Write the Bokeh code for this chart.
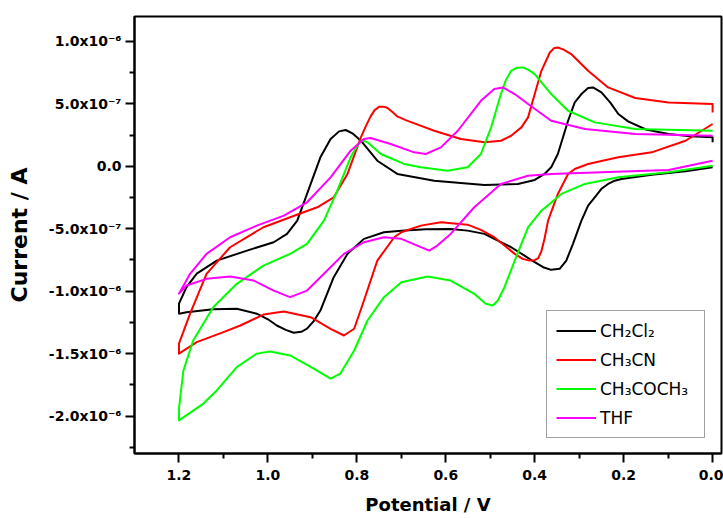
import numpy as np
from bokeh.plotting import figure
from bokeh.models import (FixedTicker, CustomJSTickFormatter, Legend, LegendItem,
                          Range1d)
from bokeh.embed import file_html
from bokeh.resources import INLINE

# ---------------- data (potential in V, current in units of 1e-6 A) ----------------
solvents = ["CH₂Cl₂", "CH₃CN", "CH₃COCH₃", "THF"]
colors = ["#000000", "#FF0000", "#00FF00", "#FF00FF"]

# CH2Cl2 : lower branch 0.0 -> 1.2 V, then upper branch 1.2 -> 0.0 V
e_ch2cl2 = [0.0, 0.061, 0.137, 0.205, 0.22, 0.235, 0.25, 0.265, 0.28, 0.295, 0.314, 0.329,
            0.344, 0.363, 0.381, 0.40, 0.423, 0.453, 0.483, 0.513, 0.551, 0.589, 0.645, 0.70,
            0.739, 0.784, 0.821, 0.852, 0.882, 0.897, 0.912, 0.925, 0.942, 0.96, 0.98, 1.0,
            1.025, 1.07, 1.123, 1.183, 1.2,
            1.2, 1.183, 1.16, 1.115, 1.047, 0.987, 0.957, 0.934, 0.912, 0.882, 0.859, 0.84,
            0.825, 0.81, 0.791, 0.754, 0.709, 0.626, 0.513, 0.438, 0.40, 0.378, 0.363, 0.348,
            0.325, 0.31, 0.295, 0.28, 0.269, 0.25, 0.23, 0.212, 0.19, 0.15, 0.099, 0.05,
            0.0, 0.0]
i_ch2cl2 = [-0.008, -0.040, -0.067, -0.101, -0.115, -0.141, -0.18, -0.248, -0.315, -0.435,
            -0.621, -0.755, -0.821, -0.829, -0.808, -0.768, -0.715, -0.648, -0.595, -0.541,
            -0.515, -0.501, -0.504, -0.515, -0.528, -0.581, -0.701, -0.888, -1.155, -1.24,
            -1.30, -1.325, -1.333, -1.31, -1.275, -1.225, -1.18, -1.141, -1.144, -1.168, -1.18,
            -1.10, -0.968, -0.86, -0.755, -0.675, -0.608, -0.541, -0.435, -0.221, 0.072,
            0.219, 0.28, 0.291, 0.264, 0.205, 0.045, -0.061, -0.115, -0.149, -0.141, -0.109,
            -0.061, -0.008, 0.099, 0.365, 0.512, 0.579, 0.627, 0.632, 0.592, 0.51, 0.419,
            0.36, 0.295, 0.259, 0.24, 0.232, 0.192]

# CH3CN
e_ch3cn = [0.0, 0.061, 0.137, 0.212, 0.28, 0.31, 0.325, 0.348, 0.37, 0.378, 0.385, 0.392,
           0.40, 0.412, 0.427, 0.445, 0.491, 0.521, 0.551, 0.611, 0.656, 0.70, 0.716, 0.754,
           0.784, 0.806, 0.829, 0.859, 0.904, 0.964, 1.01, 1.062, 1.10, 1.16, 1.2,
           1.2, 1.175, 1.138, 1.085, 1.01, 0.95, 0.889, 0.852, 0.821, 0.791, 0.78, 0.769,
           0.76, 0.75, 0.74, 0.731, 0.72, 0.709, 0.69, 0.66, 0.626, 0.566, 0.513, 0.476,
           0.453, 0.43, 0.415, 0.40, 0.385, 0.366, 0.357, 0.348, 0.335, 0.318, 0.28, 0.235,
           0.174, 0.099, 0.0, 0.0]
i_ch3cn = [0.339, 0.205, 0.112, 0.072, 0.019, -0.021, -0.061, -0.221, -0.435, -0.58, -0.68,
           -0.735, -0.752, -0.755, -0.741, -0.701, -0.568, -0.509, -0.467, -0.448, -0.475,
           -0.528, -0.568, -0.755, -1.075, -1.301, -1.355, -1.301, -1.208, -1.163, -1.187,
           -1.275, -1.328, -1.408, -1.50,
           -1.42, -1.18, -0.861, -0.648, -0.488, -0.408, -0.328, -0.248, -0.061, 0.232,
           0.32, 0.40, 0.45, 0.477, 0.478, 0.467, 0.435, 0.40, 0.37, 0.33, 0.285, 0.219,
           0.192, 0.205, 0.245, 0.312, 0.392, 0.579, 0.765, 0.912, 0.945, 0.952, 0.935,
           0.899, 0.765, 0.632, 0.547, 0.512, 0.499, 0.432]

# CH3COCH3
e_ch3coch3 = [0.0, 0.099, 0.212, 0.287, 0.34, 0.385, 0.415, 0.445, 0.468, 0.483, 0.494, 0.51,
              0.536, 0.589, 0.641, 0.70, 0.739, 0.776, 0.806, 0.837, 0.859, 0.897, 0.95,
              0.995, 1.025, 1.07, 1.115, 1.145, 1.2,
              1.2, 1.19, 1.168, 1.123, 1.07, 1.01, 0.95, 0.912, 0.874, 0.844, 0.814, 0.80,
              0.791, 0.785, 0.776, 0.746, 0.694, 0.656, 0.596, 0.551, 0.521, 0.498, 0.476,
              0.465, 0.453, 0.44, 0.427, 0.415, 0.40, 0.363, 0.325, 0.265, 0.174, 0.0]
i_ch3coch3 = [0.005, -0.048, -0.088, -0.141, -0.221, -0.355, -0.488, -0.755, -0.968, -1.075,
              -1.115, -1.101, -1.021, -0.915, -0.883, -0.928, -1.048, -1.235, -1.475, -1.66,
              -1.701, -1.621, -1.515, -1.483, -1.50, -1.608, -1.795, -1.90, -2.035,
              -1.94, -1.635, -1.395, -1.128, -0.941, -0.795, -0.701, -0.621, -0.435, -0.195,
              0.072, 0.16, 0.2, 0.205, 0.192, 0.099, 0.019, -0.008, -0.035, -0.008, 0.099,
              0.312, 0.579, 0.69, 0.765, 0.79, 0.792, 0.775, 0.739, 0.579, 0.445, 0.352,
              0.299, 0.285]

# THF
e_thf = [0.0, 0.099, 0.25, 0.363, 0.415, 0.476, 0.536, 0.589, 0.619, 0.637, 0.664, 0.70,
         0.739, 0.784, 0.829, 0.874, 0.912, 0.95, 0.987, 1.032, 1.085, 1.138, 1.183, 1.2,
         1.175, 1.138, 1.085, 1.025, 0.964, 0.912, 0.859, 0.814, 0.784, 0.769, 0.724, 0.671,
         0.645, 0.611, 0.573, 0.521, 0.491, 0.472, 0.445, 0.415, 0.363, 0.287, 0.174, 0.0]
i_thf = [0.045, -0.029, -0.048, -0.061, -0.075, -0.141, -0.328, -0.541, -0.635, -0.675,
         -0.635, -0.581, -0.568, -0.608, -0.701, -0.861, -0.995, -1.048, -0.995, -0.915,
         -0.883, -0.901, -0.955, -1.02,
         -0.861, -0.701, -0.568, -0.475, -0.395, -0.288, -0.088, 0.125, 0.219, 0.227, 0.179,
         0.112, 0.099, 0.152, 0.285, 0.525, 0.619, 0.632, 0.579, 0.499, 0.365, 0.299, 0.259,
         0.245]

potentials = [e_ch2cl2, e_ch3cn, e_ch3coch3, e_thf]
currents = [i_ch2cl2, i_ch3cn, i_ch3coch3, i_thf]

x_ticks = [0.0, 0.2, 0.4, 0.6, 0.8, 1.0, 1.2]
x_minor = [0.1, 0.3, 0.5, 0.7, 0.9, 1.1]
y_ticks = [-2.0e-6, -1.5e-6, -1.0e-6, -0.5e-6, 0.0, 0.5e-6, 1.0e-6]
y_minor = [-2.25e-6, -1.75e-6, -1.25e-6, -0.75e-6, -0.25e-6, 0.25e-6, 0.75e-6]

FONT = "DejaVu Sans"

p = figure(width=723, height=518, output_backend="svg", toolbar_location=None,
           x_range=Range1d(1.3, -0.02), y_range=Range1d(-2.3e-6, 1.2e-6),
           min_border_left=134, min_border_right=2, min_border_top=16, min_border_bottom=65)
p.xgrid.visible = False
p.ygrid.visible = False
p.outline_line_color = "black"
p.outline_line_width = 2
p.background_fill_color = "white"
p.border_fill_color = "white"

renderers = []
for e, i, c in zip(potentials, currents, colors):
    r = p.line(np.array(e), np.array(i) * 1e-6, line_color=c, line_width=2,
               line_join="round")
    renderers.append(r)

p.xaxis.ticker = FixedTicker(ticks=x_ticks, minor_ticks=x_minor)
p.yaxis.ticker = FixedTicker(ticks=y_ticks, minor_ticks=y_minor)
p.xaxis.formatter = CustomJSTickFormatter(code="return tick.toFixed(1);")
p.yaxis.formatter = CustomJSTickFormatter(code="""
if (Math.abs(tick) < 1e-15) { return "0.0"; }
const e = Math.floor(Math.log10(Math.abs(tick)) + 1e-6);
const m = tick / Math.pow(10, e);
const sup = {"-": "\u207B", "0": "\u2070", "1": "\u00B9", "2": "\u00B2", "3": "\u00B3",
             "4": "\u2074", "5": "\u2075", "6": "\u2076", "7": "\u2077", "8": "\u2078", "9": "\u2079"};
let s = "";
for (const ch of String(e)) { s += sup[ch]; }
return m.toFixed(1) + "x10" + s;
""")

for ax in (p.xaxis[0], p.yaxis[0]):
    ax.axis_line_width = 2
    ax.axis_line_color = "black"
    ax.major_tick_line_width = 2
    ax.minor_tick_line_width = 2
    ax.major_tick_in = 0
    ax.major_tick_out = 9
    ax.minor_tick_in = 0
    ax.minor_tick_out = 5
    ax.major_label_text_font = FONT
    ax.major_label_text_font_style = "bold"
    ax.major_label_text_font_size = "14px"
    ax.major_label_text_color = "black"
    ax.axis_label_text_font = FONT
    ax.axis_label_text_font_style = "bold"
    ax.axis_label_text_color = "black"

p.xaxis.major_label_standoff = 7
p.yaxis.major_label_standoff = 4
p.xaxis.axis_label = "Potential / V"
p.xaxis.axis_label_text_font_size = "18px"
p.xaxis.axis_label_standoff = 11
p.yaxis.axis_label = "Current / A"
p.yaxis.axis_label_text_font_size = "22px"
p.yaxis.axis_label_standoff = 14

items = [LegendItem(label=s, renderers=[r]) for s, r in zip(solvents, renderers)]
legend = Legend(items=items, location=(412, 15))
legend.label_text_font = FONT
legend.label_text_font_size = "17px"
legend.label_text_color = "black"
legend.border_line_color = "#444444"
legend.border_line_width = 1.5
legend.glyph_width = 40
legend.glyph_height = 21
legend.label_height = 21
legend.label_width = 95
legend.label_standoff = 4
legend.spacing = 8
legend.padding = 9
legend.margin = 0
legend.background_fill_color = "white"
legend.background_fill_alpha = 1.0
p.add_layout(legend)

open("out.html", "w").write(file_html(p, INLINE))
